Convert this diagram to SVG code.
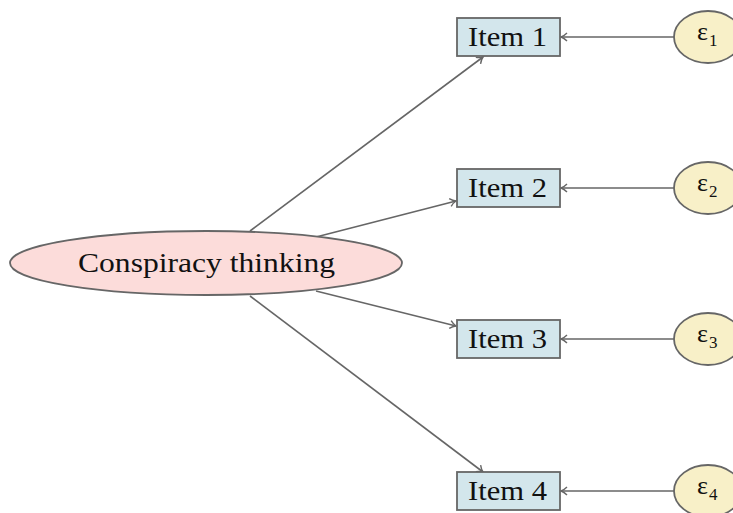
<svg xmlns="http://www.w3.org/2000/svg" width="733" height="513" viewBox="0 0 733 513">
<style>
.item rect{fill:#d3e6ec;stroke:#666;stroke-width:1.8}
.err ellipse{fill:#f8f0c8;stroke:#666;stroke-width:1.8}
.lat ellipse{fill:#fcdcda;stroke:#666;stroke-width:1.8}
text{font-family:"Liberation Serif","Times New Roman",serif;font-size:28px;fill:#111}
.eps{font-size:26px}
.sub{font-size:17px}
.conn line{stroke:#666;stroke-width:1.6;fill:none}
</style>
<defs>
<marker id="ah" markerWidth="10" markerHeight="10" refX="8" refY="5" orient="auto" markerUnits="userSpaceOnUse">
<path d="M2,1 Q5,4 8,5 Q5,6 2,9" fill="none" stroke="#666" stroke-width="1.4"/>
</marker>
</defs>
<rect width="733" height="513" fill="#fff"/>
<g id="connectors" class="conn">
<line x1="250" y1="231" x2="483" y2="57" marker-end="url(#ah)"/>
<line x1="316" y1="237" x2="456" y2="201" marker-end="url(#ah)"/>
<line x1="316" y1="291" x2="456" y2="326" marker-end="url(#ah)"/>
<line x1="250" y1="296" x2="483" y2="472" marker-end="url(#ah)"/>
<line x1="675" y1="37" x2="561" y2="37" marker-end="url(#ah)"/>
<line x1="675" y1="188" x2="561" y2="188" marker-end="url(#ah)"/>
<line x1="675" y1="339" x2="561" y2="339" marker-end="url(#ah)"/>
<line x1="675" y1="491" x2="561" y2="491" marker-end="url(#ah)"/>
</g>
<g id="conspiracy" class="lat">
<ellipse cx="206" cy="263" rx="196" ry="32"/>
<text x="78" y="272" textLength="257" lengthAdjust="spacingAndGlyphs">Conspiracy thinking</text>
</g>
<g id="item1" class="item"><rect x="457" y="18" width="103" height="38"/><text x="468" y="46" textLength="79" lengthAdjust="spacingAndGlyphs">Item 1</text></g>
<g id="item2" class="item"><rect x="457" y="169" width="103" height="38"/><text x="468" y="197" textLength="79" lengthAdjust="spacingAndGlyphs">Item 2</text></g>
<g id="item3" class="item"><rect x="457" y="320" width="103" height="38"/><text x="468" y="348" textLength="79" lengthAdjust="spacingAndGlyphs">Item 3</text></g>
<g id="item4" class="item"><rect x="457" y="472" width="103" height="38"/><text x="468" y="500" textLength="79" lengthAdjust="spacingAndGlyphs">Item 4</text></g>
<g id="e1" class="err"><ellipse cx="708" cy="37" rx="34" ry="26"/><text class="eps" x="697" y="40">ε<tspan class="sub" x="709" y="46">1</tspan></text></g>
<g id="e2" class="err"><ellipse cx="708" cy="188" rx="34" ry="26"/><text class="eps" x="697" y="191">ε<tspan class="sub" x="709" y="197">2</tspan></text></g>
<g id="e3" class="err"><ellipse cx="708" cy="339" rx="34" ry="26"/><text class="eps" x="697" y="342">ε<tspan class="sub" x="709" y="348">3</tspan></text></g>
<g id="e4" class="err"><ellipse cx="708" cy="491" rx="34" ry="26"/><text class="eps" x="697" y="494">ε<tspan class="sub" x="709" y="500">4</tspan></text></g>
</svg>
